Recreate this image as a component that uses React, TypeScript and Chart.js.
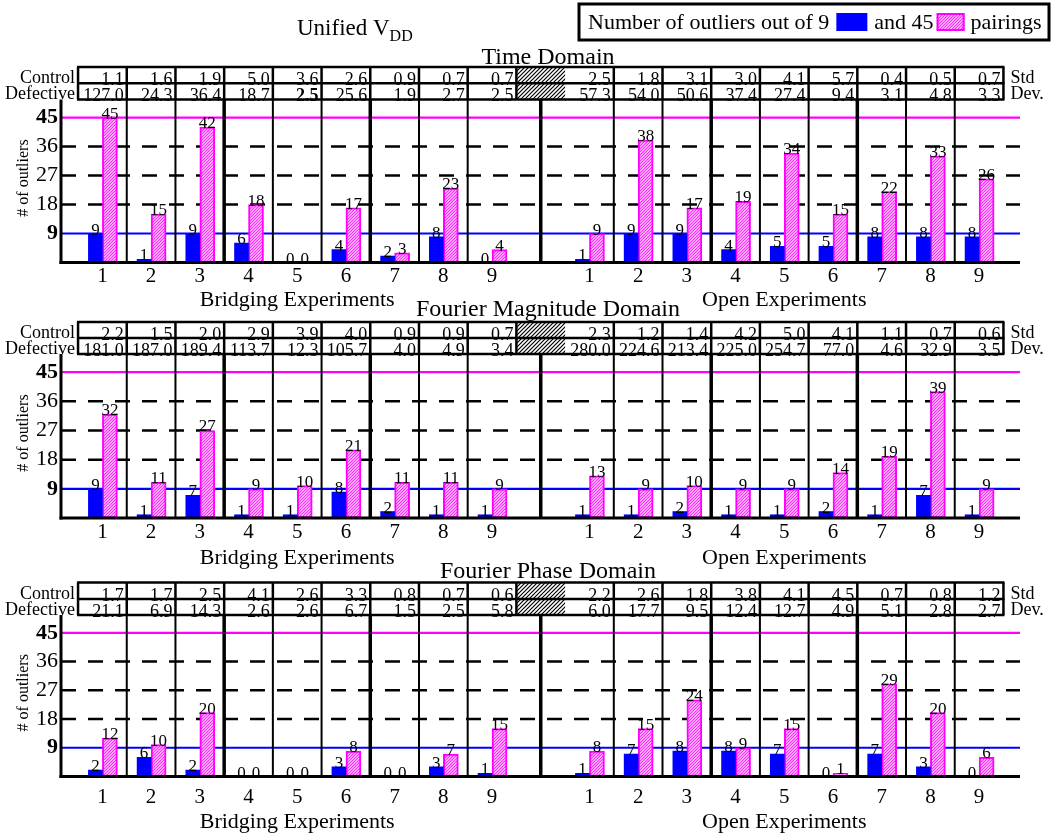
import React, { useEffect, useRef } from 'react';
import { Chart, registerables } from 'chart.js';

Chart.register(...registerables);

const SERIF = "'Liberation Serif', 'Times New Roman', Times, serif";
const W = 1053;
const H = 838;
const PLOT_LEFT = 61;
const PLOT_RIGHT = 1020;
const X_MIN = 0.15;
const X_MAX = 19.84;
const Y_MAX = 50.6;

// ---- shared category layout ----
const xPositions = [1, 2, 3, 4, 5, 6, 7, 8, 9, 11, 12, 13, 14, 15, 16, 17, 18, 19];
const xTickLabels = ['1', '2', '3', '4', '5', '6', '7', '8', '9', '1', '2', '3', '4', '5', '6', '7', '8', '9'];
const yTickValues = [9, 18, 27, 36, 45];
const dashedLevels = [18, 27, 36];
const blueLevel = 9;
const pinkLevel = 45;
const groupTitles = ['Bridging Experiments', 'Open Experiments'];
const groupCenters = [5, 15];
const thinDividers = [1.5, 2.5, 4.5, 5.5, 7.5, 8.5, 11.5, 12.5, 14.5, 15.5, 17.5, 18.5];
const thickDividers = [3.5, 6.5, 10, 13.5, 16.5];
const gapColumn = [9.5, 10.5];
const rowLabels = ['Control', 'Defective'];
const rightLabels = ['Std', 'Dev.'];

// ---- Time Domain ----
const timeOut9 = [9, 1, 9, 6, 0, 4, 2, 8, 0, 1, 9, 9, 4, 5, 5, 8, 8, 8];
const timeOut45 = [45, 15, 42, 18, 0, 17, 3, 23, 4, 9, 38, 17, 19, 34, 15, 22, 33, 26];
const timeControl = [1.1, 1.6, 1.9, 5.0, 3.6, 2.6, 0.9, 0.7, 0.7, 2.5, 1.8, 3.1, 3.0, 4.1, 5.7, 0.4, 0.5, 0.7];
const timeDefective = [127.0, 24.3, 36.4, 18.7, 2.5, 25.6, 1.9, 2.7, 2.5, 57.3, 54.0, 50.6, 37.4, 27.4, 9.4, 3.1, 4.8, 3.3];
const timeDefectiveBold = [4];

// ---- Fourier Magnitude Domain ----
const magOut9 = [9, 1, 7, 1, 1, 8, 2, 1, 1, 1, 1, 2, 1, 1, 2, 1, 7, 1];
const magOut45 = [32, 11, 27, 9, 10, 21, 11, 11, 9, 13, 9, 10, 9, 9, 14, 19, 39, 9];
const magControl = [2.2, 1.5, 2.0, 2.9, 3.9, 4.0, 0.9, 0.9, 0.7, 2.3, 1.2, 1.4, 4.2, 5.0, 4.1, 1.1, 0.7, 0.6];
const magDefective = [181.0, 187.0, 189.4, 113.7, 12.3, 105.7, 4.0, 4.9, 3.4, 280.0, 224.6, 213.4, 225.0, 254.7, 77.0, 4.6, 32.9, 3.5];

// ---- Fourier Phase Domain ----
const phaseOut9 = [2, 6, 2, 0, 0, 3, 0, 3, 1, 1, 7, 8, 8, 7, 0, 7, 3, 0];
const phaseOut45 = [12, 10, 20, 0, 0, 8, 0, 7, 15, 8, 15, 24, 9, 15, 1, 29, 20, 6];
const phaseControl = [1.7, 1.7, 2.5, 4.1, 2.6, 3.3, 0.8, 0.7, 0.6, 2.2, 2.6, 1.8, 3.8, 4.1, 4.5, 0.7, 0.8, 1.2];
const phaseDefective = [21.1, 6.9, 14.3, 2.6, 2.6, 6.7, 1.5, 2.5, 5.8, 6.0, 17.7, 9.5, 12.4, 12.7, 4.9, 5.1, 2.8, 2.7];

type Layout = {
  titleY: number;
  tableTop: number;
  tableMid: number;
  plotTop: number;
  plotBottom: number;
  tickPad: number;
  xTitleY: number;
  header: boolean;
};

function makeHatch(bg: string, fg: string, size: number, lw: number) {
  const c = document.createElement('canvas');
  c.width = size;
  c.height = size;
  const g = c.getContext('2d')!;
  g.fillStyle = bg;
  g.fillRect(0, 0, size, size);
  g.strokeStyle = fg;
  g.lineWidth = lw;
  g.beginPath();
  g.moveTo(0, size);
  g.lineTo(size, 0);
  g.moveTo(-1, 1);
  g.lineTo(1, -1);
  g.moveTo(size - 1, size + 1);
  g.lineTo(size + 1, size - 1);
  g.stroke();
  return g.createPattern(c, 'repeat')!;
}

function line(ctx: CanvasRenderingContext2D, x1: number, y1: number, x2: number, y2: number) {
  ctx.beginPath();
  ctx.moveTo(x1, y1);
  ctx.lineTo(x2, y2);
  ctx.stroke();
}

type PanelProps = {
  title: string;
  out9: number[];
  out45: number[];
  control: number[];
  defective: number[];
  bold: number[];
  layout: Layout;
};

function Panel({ title, out9, out45, control, defective, bold, layout: L }: PanelProps) {
  const ref = useRef<HTMLCanvasElement>(null);

  useEffect(() => {
    const canvas = ref.current!;
    const pinkHatch = makeHatch('#ffe6ff', '#ff22ff', 3, 1.2);
    const greyHatch = makeHatch('#ffffff', '#000000', 4, 1.2);

    const deco = {
      id: 'deco',
      beforeDatasetsDraw(chart: any) {
        const { ctx, chartArea: ca, scales } = chart;
        const x = scales.x;
        const y = scales.y;
        ctx.save();
        ctx.strokeStyle = '#000';
        ctx.lineWidth = 2.5;
        ctx.setLineDash([15, 12]);
        for (const v of dashedLevels) {
          const py = y.getPixelForValue(v);
          line(ctx, ca.left, py, ca.right, py);
        }
        ctx.setLineDash([]);
        ctx.lineWidth = 2.2;
        ctx.strokeStyle = '#ff00ff';
        let py = y.getPixelForValue(pinkLevel);
        line(ctx, ca.left, py, ca.right, py);
        ctx.strokeStyle = '#0000ff';
        py = y.getPixelForValue(blueLevel);
        line(ctx, ca.left, py, ca.right, py);
        ctx.strokeStyle = '#000';
        ctx.lineWidth = 2;
        for (const v of thinDividers) {
          const px = x.getPixelForValue(v);
          line(ctx, px, ca.top, px, ca.bottom);
        }
        ctx.lineWidth = 3.5;
        for (const v of thickDividers) {
          const px = x.getPixelForValue(v);
          line(ctx, px, ca.top, px, ca.bottom);
        }
        ctx.restore();
      },
      afterDatasetsDraw(chart: any) {
        const { ctx, chartArea: ca, scales } = chart;
        const x = scales.x;
        ctx.save();
        // axes
        ctx.strokeStyle = '#000';
        ctx.lineWidth = 3;
        line(ctx, ca.left, ca.top, ca.left, ca.bottom + 1.5);
        line(ctx, ca.left - 1.5, ca.bottom, ca.right, ca.bottom);

        // value labels
        ctx.fillStyle = '#000';
        ctx.font = `17px ${SERIF}`;
        ctx.textAlign = 'center';
        ctx.textBaseline = 'alphabetic';
        [out9, out45].forEach((vals, di) => {
          const meta = chart.getDatasetMeta(di);
          meta.data.forEach((el: any, i: number) => {
            ctx.fillText(String(vals[i]), el.x, el.y + 1);
          });
        });

        // table
        const tL = x.getPixelForValue(xPositions[0] - 0.5);
        const tR = x.getPixelForValue(xPositions[xPositions.length - 1] + 0.5);
        const gx1 = x.getPixelForValue(gapColumn[0]);
        const gx2 = x.getPixelForValue(gapColumn[1]);
        ctx.fillStyle = greyHatch;
        ctx.fillRect(gx1, L.tableTop, gx2 - gx1, L.plotTop - L.tableTop);

        ctx.fillStyle = '#000';
        ctx.textAlign = 'right';
        xPositions.forEach((p, i) => {
          const r = x.getPixelForValue(p + 0.5) - 3;
          ctx.font = `18px ${SERIF}`;
          ctx.fillText(control[i].toFixed(1), r, L.tableMid + 1.5);
          ctx.font = `${bold.includes(i) ? 'bold ' : ''}18px ${SERIF}`;
          ctx.fillText(defective[i].toFixed(1), r, L.plotTop + 1.5);
        });

        ctx.strokeStyle = '#000';
        ctx.lineWidth = 2.5;
        for (const yy of [L.tableTop, L.tableMid, L.plotTop]) line(ctx, tL - 1, yy, tR + 1, yy);
        const edges = [xPositions[0] - 0.5, ...xPositions.map((p) => p + 0.5)];
        for (const e of edges) {
          const px = x.getPixelForValue(e);
          line(ctx, px, L.tableTop, px, L.plotTop);
        }

        ctx.font = `18px ${SERIF}`;
        ctx.textAlign = 'right';
        ctx.fillText(rowLabels[0], tL - 3, L.tableMid - 0.5);
        ctx.fillText(rowLabels[1], tL - 3, L.plotTop - 0.5);
        ctx.textAlign = 'left';
        ctx.fillText(rightLabels[0], tR + 7, L.tableMid - 0.5);
        ctx.fillText(rightLabels[1], tR + 7, L.plotTop - 0.5);

        // y axis title
        ctx.save();
        ctx.translate(24, (ca.top + ca.bottom) / 2 - 3);
        ctx.rotate(-Math.PI / 2);
        ctx.font = `16px ${SERIF}`;
        ctx.textAlign = 'center';
        ctx.textBaseline = 'middle';
        ctx.fillText('# of outliers', 0, 0);
        ctx.restore();

        // titles
        ctx.textAlign = 'center';
        ctx.textBaseline = 'middle';
        ctx.font = `24px ${SERIF}`;
        ctx.fillText(title, 548, L.titleY);
        ctx.font = `22px ${SERIF}`;
        groupTitles.forEach((t, i) => {
          ctx.fillText(t, x.getPixelForValue(groupCenters[i]), L.xTitleY);
        });

        if (L.header) {
          // Unified V_DD
          ctx.textAlign = 'left';
          ctx.textBaseline = 'alphabetic';
          ctx.font = `23px ${SERIF}`;
          const base = 'Unified V';
          ctx.fillText(base, 297, 35);
          const bw = ctx.measureText(base).width;
          ctx.font = `16px ${SERIF}`;
          ctx.fillText('DD', 297 + bw, 41);

          // legend
          ctx.lineWidth = 3;
          ctx.strokeStyle = '#000';
          ctx.strokeRect(579, 4, 470, 36);
          ctx.font = `22px ${SERIF}`;
          ctx.textBaseline = 'middle';
          let cx = 588;
          const t1 = 'Number of outliers out of 9';
          ctx.fillText(t1, cx, 23);
          cx += ctx.measureText(t1).width + 7;
          ctx.fillStyle = '#0000ff';
          ctx.fillRect(cx, 13, 31, 18);
          cx += 31 + 7;
          ctx.fillStyle = '#000';
          const t2 = 'and 45';
          ctx.fillText(t2, cx, 23);
          cx += ctx.measureText(t2).width + 3;
          ctx.fillStyle = pinkHatch;
          ctx.fillRect(cx, 13, 28, 18);
          ctx.strokeStyle = '#ff00ff';
          ctx.lineWidth = 2;
          ctx.strokeRect(cx + 1, 14, 26, 16);
          cx += 28 + 6;
          ctx.fillStyle = '#000';
          ctx.fillText('pairings', cx, 23);
        }
        ctx.restore();
      },
    };

    const chart = new Chart(canvas, {
      type: 'bar',
      data: {
        datasets: [
          {
            label: 'Number of outliers out of 9',
            data: xPositions.map((xv, i) => ({ x: xv, y: out9[i] })),
            backgroundColor: '#0000ff',
            borderWidth: 0,
            barThickness: 14,
          },
          {
            label: 'and 45 pairings',
            data: xPositions.map((xv, i) => ({ x: xv, y: out45[i] })),
            backgroundColor: pinkHatch,
            borderColor: '#ff00ff',
            borderWidth: (c: any) => (c.raw && c.raw.y > 0 ? 2 : 0),
            borderSkipped: false,
            barThickness: 15,
          },
        ],
      } as any,
      options: {
        responsive: false,
        animation: false,
        events: [],
        layout: { padding: { top: L.plotTop, right: W - PLOT_RIGHT, bottom: 0, left: 0 } },
        plugins: { legend: { display: false }, tooltip: { enabled: false } },
        scales: {
          x: {
            type: 'linear',
            min: X_MIN,
            max: X_MAX,
            offset: false,
            grid: { display: false, drawTicks: false, offset: false },
            border: { display: false },
            afterBuildTicks: (s: any) => {
              s.ticks = xPositions.map((v) => ({ value: v }));
            },
            afterFit: (s: any) => {
              s.height = H - L.plotBottom;
            },
            ticks: {
              autoSkip: false,
              maxRotation: 0,
              padding: L.tickPad,
              color: '#000',
              font: { family: SERIF, size: 21 },
              callback: (_v: any, i: number) => xTickLabels[i] ?? '',
            },
          },
          y: {
            type: 'linear',
            min: 0,
            max: Y_MAX,
            grid: { display: false, drawTicks: false },
            border: { display: false },
            afterBuildTicks: (s: any) => {
              s.ticks = yTickValues.map((v) => ({ value: v }));
            },
            afterFit: (s: any) => {
              s.width = PLOT_LEFT;
            },
            ticks: {
              padding: 3,
              color: '#000',
              font: (c: any) => ({
                family: SERIF,
                size: 22,
                weight: c.tick && (c.tick.value === blueLevel || c.tick.value === pinkLevel) ? 'bold' : 'normal',
              }),
            },
          },
        },
      } as any,
      plugins: [deco],
    });
    return () => chart.destroy();
  }, []);

  return (
    <canvas
      ref={ref}
      width={W}
      height={H}
      style={{ position: 'absolute', left: 0, top: 0, width: W, height: H }}
    />
  );
}

const layoutTime: Layout = { titleY: 58, tableTop: 67, tableMid: 83.3, plotTop: 99.5, plotBottom: 262.5, tickPad: 1, xTitleY: 300, header: true };
const layoutMag: Layout = { titleY: 310, tableTop: 322, tableMid: 338, plotTop: 354, plotBottom: 518, tickPad: 2, xTitleY: 558, header: false };
const layoutPhase: Layout = { titleY: 572, tableTop: 582.5, tableMid: 599, plotTop: 615, plotBottom: 776.5, tickPad: 8, xTitleY: 822, header: false };

export default function App() {
  return (
    <div style={{ position: 'absolute', left: 0, top: 0, width: W, height: H, background: '#fff' }}>
      <Panel title="Time Domain" out9={timeOut9} out45={timeOut45} control={timeControl} defective={timeDefective} bold={timeDefectiveBold} layout={layoutTime} />
      <Panel title="Fourier Magnitude Domain" out9={magOut9} out45={magOut45} control={magControl} defective={magDefective} bold={[]} layout={layoutMag} />
      <Panel title="Fourier Phase Domain" out9={phaseOut9} out45={phaseOut45} control={phaseControl} defective={phaseDefective} bold={[]} layout={layoutPhase} />
    </div>
  );
}
